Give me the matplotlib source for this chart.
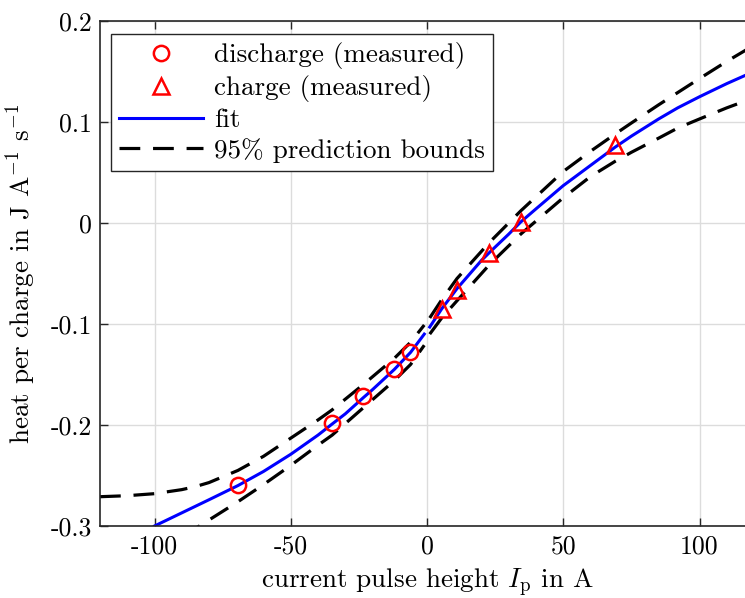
import matplotlib
matplotlib.use("Agg")
import matplotlib.pyplot as plt
from matplotlib.lines import Line2D

plt.rcParams['font.family'] = 'serif'
plt.rcParams['font.serif'] = ['cmr10', 'DejaVu Serif']
plt.rcParams['mathtext.fontset'] = 'cm'
plt.rcParams['axes.unicode_minus'] = False
plt.rcParams['axes.formatter.use_mathtext'] = False

# measured points
dis_x = [-69.4, -34.8, -23.4, -12.1, -6.3]
dis_y = [-0.259, -0.198, -0.171, -0.145, -0.128]
chg_x = [5.4, 11.1, 22.8, 34.4, 69.0]
chg_y = [-0.085, -0.066, -0.030, 0.001, 0.077]

# fit (discharge side and charge side)
fit_dx = [-100, -90, -80, -69.4, -60, -50, -40, -34.8, -30, -23.4, -20, -12, -6, -1]
fit_dy = [-0.300, -0.287, -0.274, -0.260, -0.246, -0.229, -0.210, -0.199, -0.189,
          -0.173, -0.165, -0.145, -0.128, -0.110]
fit_cx = [1, 5.4, 11, 20, 23, 30, 34.4, 40, 50, 60, 69, 75, 85, 92, 100, 110, 120]
fit_cy = [-0.103, -0.085, -0.065, -0.037, -0.029, -0.011, 0.001, 0.014, 0.037,
          0.057, 0.075, 0.086, 0.103, 0.114, 0.125, 0.138, 0.150]

# 95% prediction bounds
up_dx = [-120, -110, -100, -90, -85, -80, -69.4, -60, -50, -40, -34.8, -23.4, -12, -6, -1]
up_dy = [-0.271, -0.270, -0.268, -0.264, -0.261, -0.257, -0.245, -0.231, -0.213,
         -0.195, -0.185, -0.160, -0.134, -0.118, -0.101]
up_cx = [1, 5.4, 11, 23, 34.4, 50, 60, 69, 75, 85, 100, 110, 120]
up_cy = [-0.094, -0.076, -0.055, -0.019, 0.012, 0.051, 0.071, 0.088, 0.099,
         0.117, 0.143, 0.160, 0.176]
lo_dx = [-90, -83.5, -69.4, -60, -50, -40, -34.8, -23.4, -12, -6, -1]
lo_dy = [-0.310, -0.300, -0.276, -0.259, -0.240, -0.220, -0.210, -0.183, -0.156,
         -0.140, -0.121]
lo_cx = [1, 5.4, 11, 23, 34.4, 50, 60, 69, 75, 85, 92, 100, 110, 120]
lo_cy = [-0.110, -0.094, -0.077, -0.041, -0.011, 0.025, 0.046, 0.061, 0.070,
         0.084, 0.094, 0.103, 0.114, 0.124]

fig = plt.figure(figsize=(7.45, 5.98), dpi=100)
ax = fig.add_axes([100/745, 72/598, 654/745, 505/598])

dash = dict(color='k', lw=2.3, dashes=(6.5, 4))
ax.plot(up_dx, up_dy, **dash)
ax.plot(up_cx, up_cy, **dash)
ax.plot(lo_dx, lo_dy, **dash)
ax.plot(lo_cx, lo_cy, **dash)
ax.plot(fit_dx, fit_dy, color='b', lw=2.2)
ax.plot(fit_cx, fit_cy, color='b', lw=2.2)
ax.plot(dis_x, dis_y, 'o', ms=11, mfc='none', mec='r', mew=1.8)
ax.plot(chg_x, chg_y, '^', ms=11, mfc='none', mec='r', mew=1.8)

ax.set_xlim(-120, 120)
ax.set_ylim(-0.3, 0.2)
ax.set_xticks([-100, -50, 0, 50, 100])
ax.set_xticklabels(['-100', '-50', '0', '50', '100'])
ax.set_yticks([-0.3, -0.2, -0.1, 0, 0.1, 0.2])
ax.set_yticklabels(['-0.3', '-0.2', '-0.1', '0', '0.1', '0.2'])
ax.grid(True, color='#dcdcdc', lw=1)
ax.set_axisbelow(True)
ax.tick_params(direction='in', top=True, right=True, labelsize=18.5, length=6,
               width=1, color='#262626', pad=6)
for s in ax.spines.values():
    s.set_color('#262626')
    s.set_linewidth(1.2)

ax.set_xlabel(r'current pulse height $I_\mathrm{p}$ in A', fontsize=19.5, labelpad=6)
ax.set_ylabel(r'heat per charge in J A$^{-1}$ s$^{-1}$', fontsize=19.5, labelpad=9)

handles = [
    Line2D([], [], ls='none', marker='o', ms=11, mfc='none', mec='r', mew=1.8),
    Line2D([], [], ls='none', marker='^', ms=11, mfc='none', mec='r', mew=1.8),
    Line2D([], [], color='b', lw=2.2),
    Line2D([], [], **dash),
]
labels = ['discharge (measured)', 'charge (measured)', 'fit', '95% prediction bounds']
leg = ax.legend(handles, labels, loc='upper left', bbox_to_anchor=(11/654, 1 - 13/505),
                fontsize=19.5, handlelength=3.1, handletextpad=0.4, labelspacing=0.22,
                borderpad=0.3, borderaxespad=0, fancybox=False, framealpha=1,
                edgecolor='#262626')
leg.get_frame().set_linewidth(1.0)

fig.savefig('out.png', dpi=100)
